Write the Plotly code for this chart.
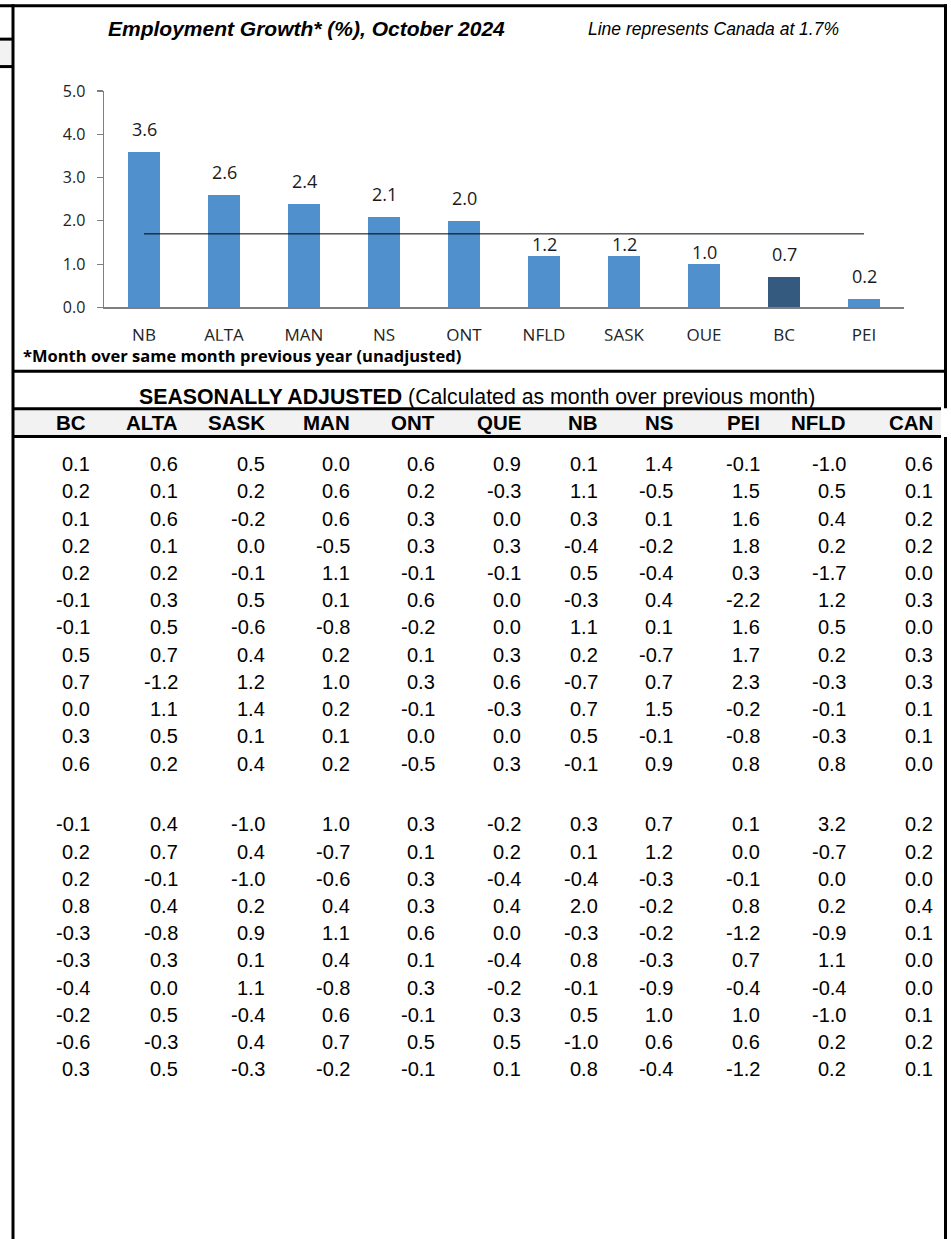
import plotly.graph_objects as go

# ---------------- data ----------------
provinces = ["NB", "ALTA", "MAN", "NS", "ONT", "NFLD", "SASK", "QUE", "BC", "PEI"]
growth = [3.6, 2.6, 2.4, 2.1, 2.0, 1.2, 1.2, 1.0, 0.7, 0.2]
canada_growth = 1.7
highlight = "BC"
y_ticks = [0.0, 1.0, 2.0, 3.0, 4.0, 5.0]

chart_title = "Employment Growth* (%), October 2024"
line_note = "Line represents Canada at 1.7%"
footnote = "*Month over same month previous year (unadjusted)"
table_title_bold = "SEASONALLY ADJUSTED"
table_title_rest = " (Calculated as month over previous month)"

table_cols = ["BC", "ALTA", "SASK", "MAN", "ONT", "QUE", "NB", "NS", "PEI", "NFLD", "CAN"]
block1 = [
    [0.1, 0.6, 0.5, 0.0, 0.6, 0.9, 0.1, 1.4, -0.1, -1.0, 0.6],
    [0.2, 0.1, 0.2, 0.6, 0.2, -0.3, 1.1, -0.5, 1.5, 0.5, 0.1],
    [0.1, 0.6, -0.2, 0.6, 0.3, 0.0, 0.3, 0.1, 1.6, 0.4, 0.2],
    [0.2, 0.1, 0.0, -0.5, 0.3, 0.3, -0.4, -0.2, 1.8, 0.2, 0.2],
    [0.2, 0.2, -0.1, 1.1, -0.1, -0.1, 0.5, -0.4, 0.3, -1.7, 0.0],
    [-0.1, 0.3, 0.5, 0.1, 0.6, 0.0, -0.3, 0.4, -2.2, 1.2, 0.3],
    [-0.1, 0.5, -0.6, -0.8, -0.2, 0.0, 1.1, 0.1, 1.6, 0.5, 0.0],
    [0.5, 0.7, 0.4, 0.2, 0.1, 0.3, 0.2, -0.7, 1.7, 0.2, 0.3],
    [0.7, -1.2, 1.2, 1.0, 0.3, 0.6, -0.7, 0.7, 2.3, -0.3, 0.3],
    [0.0, 1.1, 1.4, 0.2, -0.1, -0.3, 0.7, 1.5, -0.2, -0.1, 0.1],
    [0.3, 0.5, 0.1, 0.1, 0.0, 0.0, 0.5, -0.1, -0.8, -0.3, 0.1],
    [0.6, 0.2, 0.4, 0.2, -0.5, 0.3, -0.1, 0.9, 0.8, 0.8, 0.0],
]
block2 = [
    [-0.1, 0.4, -1.0, 1.0, 0.3, -0.2, 0.3, 0.7, 0.1, 3.2, 0.2],
    [0.2, 0.7, 0.4, -0.7, 0.1, 0.2, 0.1, 1.2, 0.0, -0.7, 0.2],
    [0.2, -0.1, -1.0, -0.6, 0.3, -0.4, -0.4, -0.3, -0.1, 0.0, 0.0],
    [0.8, 0.4, 0.2, 0.4, 0.3, 0.4, 2.0, -0.2, 0.8, 0.2, 0.4],
    [-0.3, -0.8, 0.9, 1.1, 0.6, 0.0, -0.3, -0.2, -1.2, -0.9, 0.1],
    [-0.3, 0.3, 0.1, 0.4, 0.1, -0.4, 0.8, -0.3, 0.7, 1.1, 0.0],
    [-0.4, 0.0, 1.1, -0.8, 0.3, -0.2, -0.1, -0.9, -0.4, -0.4, 0.0],
    [-0.2, 0.5, -0.4, 0.6, -0.1, 0.3, 0.5, 1.0, 1.0, -1.0, 0.1],
    [-0.6, -0.3, 0.4, 0.7, 0.5, 0.5, -1.0, 0.6, 0.6, 0.2, 0.2],
    [0.3, 0.5, -0.3, -0.2, -0.1, 0.1, 0.8, -0.4, -1.2, 0.2, 0.1],
]

# ---------------- layout / style ----------------
W = 951
HF = 1252          # figure height
TOP_SHIFT = 10     # figure div is lifted by this many px
V_SCALE = 0.985    # observed vertical scale of the capture
V_OFF = 9.6        # observed vertical offset of the capture
BAR_COLOR = "#5091CD"
HIGHLIGHT_COLOR = "#345A80"
AXIS_COLOR = "#7F7F7F"
HEADER_FILL = "#F2F2F2"
ARIAL = "Arial, Liberation Sans, sans-serif"
SEGOE = "Open Sans, Noto Sans, sans-serif"

# table geometry (target picture pixels)
HEADER_RIGHT = [88, 180, 267, 352, 437, 523, 600, 675, 762, 848, 935]
NUM_RIGHT = [92, 180, 267, 352, 437, 523, 600, 675, 762, 848, 935]
HEADER_Y = 422.0
ROW0_Y = 464.0
ROW_PITCH = 27.3
BLOCK_GAP = 2.23


def fy(y):
    """target picture y -> figure y"""
    return (y - V_OFF) / V_SCALE + TOP_SHIFT


def px(x):
    return x / W


def py(y):
    return 1 - fy(y) / HF


fig = go.Figure()

fig.add_trace(go.Bar(
    x=provinces, y=growth, width=0.41,
    marker=dict(color=[HIGHLIGHT_COLOR if p == highlight else BAR_COLOR for p in provinces],
                line=dict(width=0)),
    hoverinfo="skip", showlegend=False,
))
fig.add_trace(go.Scatter(
    x=[provinces[0], provinces[-1]], y=[canada_growth, canada_growth],
    mode="lines", line=dict(color="black", width=1),
    hoverinfo="skip", showlegend=False,
))

annotations = []
for p, v in zip(provinces, growth):
    near_line = abs((v + 0.5) - canada_growth) < 0.3
    annotations.append(dict(
        x=p, y=v, xref="x", yref="y", text=f"{v:.1f}", showarrow=False,
        xanchor="center", yanchor="bottom", yshift=-2 if near_line else 9,
        font=dict(family=SEGOE, size=18, color="#1A1A1A"),
    ))

# table on a hidden axis pair: x2 in picture px, y2 in row units
pitch_fig = ROW_PITCH / V_SCALE
row0_fig = fy(ROW0_Y)
y2_top = (0 - row0_fig) / pitch_fig
y2_bot = (HF - row0_fig) / pitch_fig

table_font = dict(family=ARIAL, size=20, color="black")
header_font = dict(family=ARIAL, size=20.5, color="black")

for j, c in enumerate(table_cols):
    annotations.append(dict(
        x=HEADER_RIGHT[j], y=(HEADER_Y - ROW0_Y) / ROW_PITCH, xref="x2", yref="y2",
        text=f"<b>{c}</b>", showarrow=False, xanchor="right", yanchor="middle",
        font=header_font,
    ))

rows = [(i, r) for i, r in enumerate(block1)] + \
       [(len(block1) - 1 + BLOCK_GAP + i, r) for i, r in enumerate(block2)]
for slot, r in rows:
    for j, v in enumerate(r):
        annotations.append(dict(
            x=NUM_RIGHT[j], y=slot, xref="x2", yref="y2",
            text=f"{v:.1f}", showarrow=False, xanchor="right", yanchor="middle",
            font=table_font,
        ))

annotations += [
    dict(x=px(306), y=py(27), xref="paper", yref="paper", showarrow=False,
         xanchor="center", yanchor="middle",
         text=f"<b><i>{chart_title}</i></b>", font=dict(family=ARIAL, size=21, color="black")),
    dict(x=px(713), y=py(28), xref="paper", yref="paper", showarrow=False,
         xanchor="center", yanchor="middle",
         text=f"<i>{line_note}</i>", font=dict(family=ARIAL, size=17.5, color="black")),
    dict(x=px(21), y=py(355), xref="paper", yref="paper", showarrow=False,
         xanchor="left", yanchor="middle",
         text=f"<b>{footnote}</b>", font=dict(family=SEGOE, size=16.5, color="black")),
    dict(x=px(477), y=py(397), xref="paper", yref="paper", showarrow=False,
         xanchor="center", yanchor="middle",
         text=f"<b>{table_title_bold}</b>{table_title_rest}",
         font=dict(family=ARIAL, size=21.3, color="black")),
]


def hline(y, x0, x1, w=3):
    return dict(type="line", xref="paper", yref="paper", x0=px(x0), x1=px(x1),
                y0=py(y), y1=py(y), line=dict(color="black", width=w), layer="above")


def vline(x, y0, y1, w=3):
    return dict(type="line", xref="paper", yref="paper", x0=px(x), x1=px(x),
                y0=py(y0), y1=py(y1), line=dict(color="black", width=w), layer="above")


shapes = [
    dict(type="rect", xref="paper", yref="paper", x0=px(95), x1=px(915), y0=py(340.5), y1=py(346),
         fillcolor="white", line=dict(width=0), layer="above"),
    dict(type="rect", xref="paper", yref="paper", x0=px(14), x1=px(941), y0=py(409), y1=py(436),
         fillcolor=HEADER_FILL, line=dict(width=0), layer="below"),
    dict(type="rect", xref="paper", yref="paper", x0=px(0), x1=px(12), y0=py(38), y1=py(65),
         fillcolor=HEADER_FILL, line=dict(width=0), layer="below"),
    hline(4.5, 0, 947),
    vline(13, 3, 1245),
    vline(945.5, 3, 408),
    vline(945.5, 437, 1245),
    hline(371, 12, 947),
    hline(408.5, 12, 941),
    hline(436.5, 12, 941),
    hline(38, 0, 12),
    hline(65.5, 0, 12),
]

fig.update_layout(
    width=W, height=HF,
    margin=dict(l=0, r=0, t=0, b=0),
    paper_bgcolor="white", plot_bgcolor="rgba(0,0,0,0)",
    bargap=0,
    xaxis=dict(
        domain=[px(104), px(904)], range=[-0.5, len(provinces) - 0.5],
        showline=True, linecolor=AXIS_COLOR, linewidth=1.5,
        ticks="", showgrid=False, zeroline=False, fixedrange=True,
        tickfont=dict(family=SEGOE, size=17, color="#222222"),
        ticklabelstandoff=12,
    ),
    yaxis=dict(
        domain=[py(307), py(90)], range=[0, 5],
        tickvals=y_ticks, ticktext=[f"{t:.1f}" for t in y_ticks],
        showline=True, linecolor=AXIS_COLOR, linewidth=1.5,
        ticks="outside", ticklen=6, tickcolor=AXIS_COLOR, tickwidth=1.2,
        showgrid=False, zeroline=False, fixedrange=True,
        tickfont=dict(family=SEGOE, size=16, color="#222222"),
        ticklabelstandoff=8,
    ),
    xaxis2=dict(domain=[0, 1], range=[0, W], visible=False, anchor="y2", fixedrange=True),
    yaxis2=dict(domain=[0, 1], range=[y2_bot, y2_top], visible=False, anchor="x2", fixedrange=True),
    annotations=annotations,
    shapes=shapes,
)

fig.write_html(
    "out.html",
    config={"displayModeBar": False, "staticPlot": True},
    post_script=(
        "document.documentElement.style.margin='0';"
        "document.body.style.margin='0';"
        "document.documentElement.style.overflow='hidden';"
        "document.body.style.overflow='hidden';"
        "var d=document.getElementById('{plot_id}');"
        "d.style.position='fixed';d.style.left='0px';d.style.top='-" + str(TOP_SHIFT) + "px';"
    ),
)
